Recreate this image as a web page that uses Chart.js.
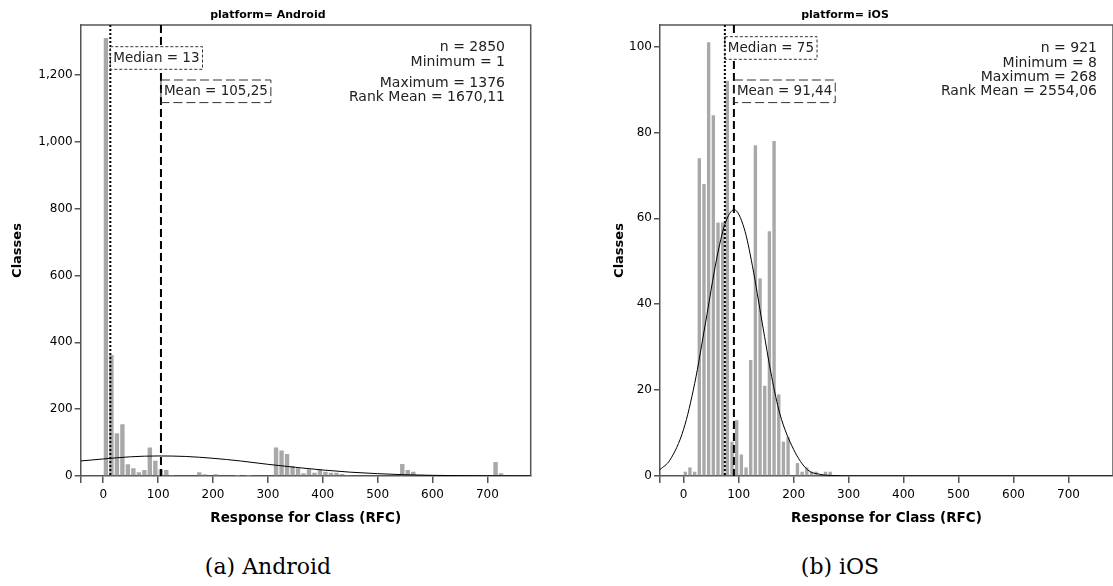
<!DOCTYPE html>
<html><head><meta charset="utf-8">
<script src="https://cdn.jsdelivr.net/npm/chart.js@4.4.1/dist/chart.umd.min.js"></script>
<style>
html,body{margin:0;padding:0;background:#fff;overflow:hidden;width:1113px;height:586px;}
#wrapA{position:absolute;left:5px;top:0;width:551px;height:535px;}
#wrapB{position:absolute;left:577px;top:0;width:540px;height:535px;}
.cap{position:absolute;top:554px;font-family:"DejaVu Serif",serif;font-size:22px;color:#000;transform:translateX(-50%);white-space:nowrap;}
</style></head><body>
<div id="wrapA"><canvas id="cA"></canvas></div>
<div id="wrapB"><canvas id="cB"></canvas></div>
<div class="cap" style="left:268px">(a) Android</div>
<div class="cap" style="left:840px">(b) iOS</div>
<script>
// ---------- data ----------
const xTickValues = [0,100,200,300,400,500,600,700];
const androidYTicks = [0,200,400,600,800,1000,1200];
const iosYTicks = [0,20,40,60,80,100];

const androidBins = [5,15,25,35,45,55,65,75,85,95,105,115,125,135,145,155,165,175,185,195,
  205,215,225,235,245,255,265,275,285,295,305,315,325,335,345,355,365,375,385,395,
  405,415,425,435,445,455,465,475,485,495,505,515,525,535,545,555,565,575,585,595,
  605,615,625,635,645,655,665,675,685,695,705,715,725,735,745,755,765,775];
const androidCounts = [1311,362,128,155,35,23,11,18,85,46,
  20,18,3,0,0,0,0,11,5,0,
  5,0,2,0,1,2,1,0,0,0,
  0,85,76,66,30,23,8,20,10,20,
  13,10,10,6,3,2,0,0,0,2,
  0,0,0,0,36,18,13,0,0,0,
  3,0,0,0,0,0,0,0,0,0,
  0,42,8,0,0,0,0,0];
const androidCurveX = [-41,0,50,100,150,200,250,300,350,400,450,500,550,600,650,700,779];
const androidCurveY = [45,51,57.5,60,58.5,53,45,35,26,18,11.5,7,3.8,2,1,0.4,0.1];
const androidMedian = 13;
const androidMean = 105.25;
const androidMedianLabel = 'Median = 13';
const androidMeanLabel = 'Mean = 105,25';
const androidStats = ['n = 2850','Minimum = 1','Maximum = 1376','Rank Mean = 1670,11'];

const iosBins = [3,11.5,20,28.5,37,45.5,54,62.5,71,79.5,88,96.5,105,113.5,122,130.5,
  139,147.5,156,164.5,173,181.5,190,198.5,207,215.5,224,232.5,241,249.5,258,266.5];
const iosCounts = [1,2,1,74,68,101,84,59,59,92,8,13,5,2,27,77,
  46,21,57,78,19,8,9,0,3,1,2,1,1,0,1,1];
const iosCurveX = [-43,-25,0,20,40,60,75,92,110,125,143,160,175,200,225,250,275,300,781];
const iosCurveY = [1.5,3.7,10.9,21.5,35.8,50.5,58.6,62,57.7,49,35.6,23.2,14.5,6.2,1.5,0.35,0.1,0,0];
const iosMedian = 75;
const iosMean = 91.44;
const iosMedianLabel = 'Median = 75';
const iosMeanLabel = 'Mean = 91,44';
const iosStats = ['n = 921','Minimum = 8','Maximum = 268','Rank Mean = 2554,06'];

// ---------- drawing ----------
Chart.defaults.font.family = '"DejaVu Sans", sans-serif';
const AXIS = '#555';

const annotPlugin = {
  id: 'annot',
  afterDatasetsDraw(chart, args, o) {
    const {ctx, chartArea: a, scales: {x}} = chart;
    ctx.save();
    // frame top + right
    ctx.strokeStyle = AXIS; ctx.lineWidth = 1.5; ctx.setLineDash([]);
    ctx.beginPath(); ctx.moveTo(a.left, a.top); ctx.lineTo(a.right, a.top); ctx.lineTo(a.right, a.bottom); ctx.stroke();
    const mx = x.getPixelForValue(o.median);
    const ax = x.getPixelForValue(o.mean);
    // median line (dotted)
    ctx.strokeStyle = '#000'; ctx.lineWidth = 2;
    ctx.setLineDash([2, 2]);
    ctx.beginPath(); ctx.moveTo(mx, a.top); ctx.lineTo(mx, a.bottom); ctx.stroke();
    // mean line (dashed)
    ctx.setLineDash([8, 4]);
    ctx.beginPath(); ctx.moveTo(ax, a.top); ctx.lineTo(ax, a.bottom); ctx.stroke();
    // label boxes
    ctx.font = '13.5px "DejaVu Sans"';
    ctx.textBaseline = 'middle'; ctx.textAlign = 'left';
    const box = (bx, by, text, dash) => {
      const w = ctx.measureText(text).width + 6, h = 22.6;
      ctx.fillStyle = '#fff';
      ctx.fillRect(bx + 1, by, w - 1, h);
      ctx.setLineDash(dash); ctx.lineWidth = 1; ctx.strokeStyle = '#333';
      ctx.strokeRect(bx, by, w, h);
      ctx.fillStyle = '#222';
      ctx.fillText(text, bx + 3, by + h / 2 + 0.5);
    };
    box(mx, a.top + o.medianBoxTop, o.medianLabel, [3, 2]);
    box(ax, a.top + o.meanBoxTop, o.meanLabel, [9, 4]);
    // stats text
    ctx.font = '14px "DejaVu Sans"';
    ctx.textAlign = 'right'; ctx.fillStyle = '#222';
    o.stats.forEach((s, i) => ctx.fillText(s, a.right - o.statsRight, o.statsY[i]));
    ctx.restore();
  }
};

function makeChart(id, cfg) {
  const binData = cfg.bins.map((b, i) => ({x: b, y: cfg.counts[i]}));
  const curveData = cfg.curveX.map((v, i) => ({x: v, y: cfg.curveY[i]}));
  return new Chart(document.getElementById(id), {
    type: 'bar',
    data: {
      datasets: [
        {type: 'bar', data: binData, backgroundColor: '#a8a8a8', borderWidth: 0,
         barPercentage: cfg.barPct, categoryPercentage: 1, order: 2},
        {type: 'line', data: curveData, borderColor: '#000', borderWidth: 1,
         pointRadius: 0, cubicInterpolationMode: 'monotone', fill: false, order: 1}
      ]
    },
    options: {
      responsive: true, maintainAspectRatio: false, animation: false, events: [],
      layout: {padding: {left: 0, top: 0, right: cfg.padRight, bottom: 0}},
      plugins: {
        legend: {display: false}, tooltip: {enabled: false},
        title: {display: true, text: cfg.title, color: '#000',
                font: {size: 11, weight: 'bold'}, padding: {top: 8.4, bottom: 3.4}},
        annot: cfg.annot
      },
      scales: {
        x: {
          type: 'linear', min: cfg.xMin, max: cfg.xMax, offset: false,
          afterBuildTicks: s => { s.ticks = [cfg.xMin].concat(xTickValues).map(v => ({value: v})); },
          afterFit: s => { s.height = 59; },
          ticks: {color: '#000', font: {size: 12}, padding: 5, maxRotation: 0,
                  callback: v => xTickValues.includes(v) ? String(v) : ''},
          grid: {drawOnChartArea: false, drawTicks: true, tickLength: 7, color: AXIS, lineWidth: 1.5, offset: false},
          border: {display: true, color: AXIS, width: 1.5},
          title: {display: true, text: 'Response for Class (RFC)', color: '#000',
                  font: {size: 13.5, weight: 'bold'}, padding: {top: 0, bottom: 8.6}}
        },
        y: {
          type: 'linear', min: 0, max: cfg.yMax,
          afterBuildTicks: s => { s.ticks = cfg.yTicks.map(v => ({value: v})); },
          afterFit: s => { s.width = cfg.yAxisWidth; },
          ticks: {color: '#000', font: {size: 12}, padding: 2},
          grid: {drawOnChartArea: false, drawTicks: true, tickLength: 6, color: AXIS, lineWidth: 1.5},
          border: {display: true, color: AXIS, width: 1.5},
          title: {display: true, text: 'Classes', color: '#000',
                  font: {size: 13, weight: 'bold'}, padding: {top: cfg.yTitlePad, bottom: 0}}
        }
      }
    },
    plugins: [annotPlugin]
  });
}

makeChart('cA', {
  bins: androidBins, counts: androidCounts, curveX: androidCurveX, curveY: androidCurveY,
  barPct: 0.8, padRight: 25.3, xMin: -41, xMax: 779, yMax: 1350, yTicks: androidYTicks,
  yAxisWidth: 75.7, yTitlePad: 5.2, title: 'platform= Android',
  annot: {median: androidMedian, mean: androidMean, medianLabel: androidMedianLabel,
          meanLabel: androidMeanLabel, medianBoxTop: 21.7, meanBoxTop: 55,
          stats: androidStats, statsRight: 25.7, statsY: [47, 62, 83, 97]}
});
makeChart('cB', {
  bins: iosBins, counts: iosCounts, curveX: iosCurveX, curveY: iosCurveY,
  barPct: 0.72, padRight: 4, xMin: -43, xMax: 781, yMax: 105, yTicks: iosYTicks,
  yAxisWidth: 83, yTitlePad: 35.2, title: 'platform= iOS',
  annot: {median: iosMedian, mean: iosMean, medianLabel: iosMedianLabel,
          meanLabel: iosMeanLabel, medianBoxTop: 11.7, meanBoxTop: 55,
          stats: iosStats, statsRight: 16, statsY: [48.3, 63.3, 77.3, 91.7]}
});
</script>
</body></html>
